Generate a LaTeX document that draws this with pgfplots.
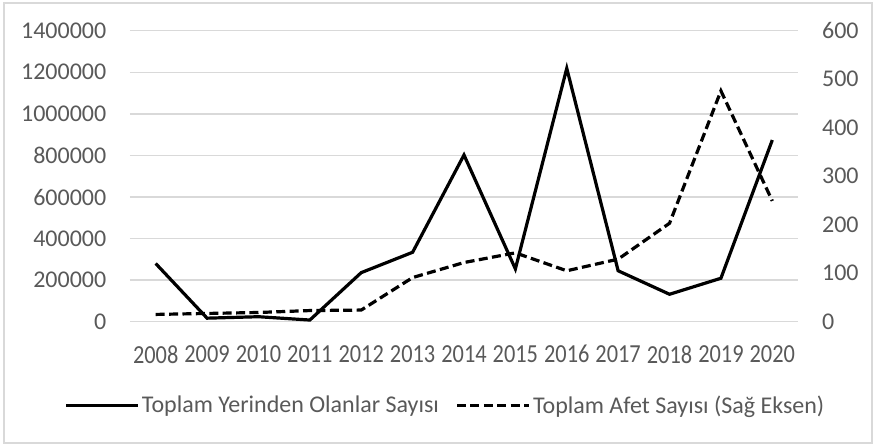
\documentclass[border=0pt]{standalone}
\usepackage{pgfplots}
\pgfplotsset{compat=1.18}
\usepackage{fontspec}
\setmainfont{Carlito}
\definecolor{txt}{HTML}{595959}
\definecolor{grd}{HTML}{D9D9D9}
\newcommand{\sq}[1]{\scalebox{0.86}[1]{\fontsize{13}{15}\selectfont #1}}
\begin{document}
\begin{tikzpicture}
\path[use as bounding box] (-65pt,-62.15pt) rectangle (372pt,160.85pt);
\draw[grd, line width=0.7pt] (-63pt,-60.65pt) rectangle (371pt,159.35pt);
\pgfplotsset{
  every axis/.append style={
    scale only axis, width=334pt, height=145.5pt,
    xmin=-0.5, xmax=12.5,
    font=\fontsize{12}{14}\selectfont,
    tick label style={text=txt, font=\fontsize{12}{14}\selectfont},
    major tick length=0pt,
    tick style={draw=none},
    scaled y ticks=false,
    /pgf/number format/assume math mode=true,
    legend image code/.code={\draw[#1] (0pt,0pt) -- (36pt,0pt);},
  }
}
\begin{axis}[
  ymin=0, ymax=1400000,
  ytick={0,200000,400000,600000,800000,1000000,1200000,1400000},
  yticklabels={0,200000,400000,600000,800000,1000000,1200000,1400000},
  xtick={0,...,12},
  xticklabels={\sq{2008},\sq{2009},\sq{2010},\sq{2011},\sq{2012},\sq{2013},\sq{2014},\sq{2015},\sq{2016},\sq{2017},\sq{2018},\sq{2019},\sq{2020}},
  xticklabel style={anchor=north, inner sep=0pt, yshift=-11.65pt},
  yticklabel style={anchor=east, inner sep=0pt, xshift=-11.65pt},
  ymajorgrids, grid style={grd, line width=0.75pt},
  axis line style={draw=none},
]
\addplot[black, line width=1.6pt] coordinates {
(0,280000) (1,17000) (2,24000) (3,8000) (4,236000) (5,334000) (6,802000)
(7,254000) (8,1219000) (9,245000) (10,132000) (11,209000) (12,874000)};
\end{axis}
\begin{axis}[
  ymin=0, ymax=600,
  ytick={0,100,...,600},
  yticklabels={0,100,200,300,400,500,600},
  axis y line*=right, axis x line=none,
  axis line style={draw=none},
  yticklabel style={anchor=west, inner sep=0pt, xshift=11.85pt},
  legend columns=2,
  legend style={at={(-0.0988,-0.2888)}, anchor=west, draw=none, fill=none,
    inner sep=0pt, text=txt, font=\fontsize{12}{14}\selectfont,
    nodes={inner sep=1.2pt, anchor=west},
    /tikz/every even column/.append style={column sep=7pt}},
]
\addlegendimage{black, line width=1.6pt}
\addlegendentry{Toplam Yerinden Olanlar Sayısı}
\addplot[black, line width=1.6pt, dash pattern=on 4.5pt off 2.2pt] coordinates {
(0,15) (1,17) (2,19) (3,23) (4,24) (5,91) (6,122)
(7,142) (8,105) (9,129) (10,203) (11,476) (12,249)};
\addlegendentry{Toplam Afet Sayısı (Sağ Eksen)}
\end{axis}
\end{tikzpicture}
\end{document}
